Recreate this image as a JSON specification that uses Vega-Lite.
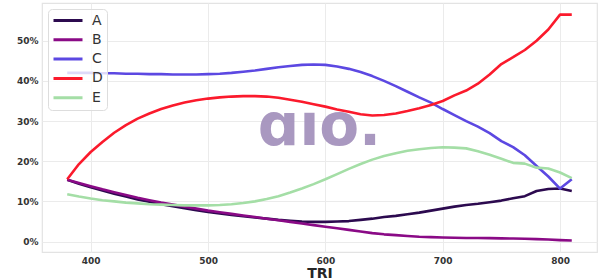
{
  "$schema": "https://vega.github.io/schema/vega-lite/v6.json",
  "width": 555,
  "height": 249,
  "autosize": {"type": "none"},
  "padding": {"left": 42, "top": 3, "right": 3, "bottom": 28},
  "background": "white",
  "config": {
    "view": {"stroke": "#e3e3e3", "strokeWidth": 1.2},
    "font": "DejaVu Sans"
  },
  "datasets": {
    "series": [
      {"x":380,"A":15.4,"B":15.4,"C":42.0,"D":15.5,"E":11.8},
      {"x":390,"A":14.4,"B":14.6,"C":42.0,"D":19.3,"E":11.2},
      {"x":400,"A":13.5,"B":13.8,"C":42.0,"D":22.3,"E":10.7},
      {"x":410,"A":12.7,"B":13.0,"C":41.9,"D":24.8,"E":10.3},
      {"x":420,"A":11.9,"B":12.3,"C":41.9,"D":27.1,"E":10.0},
      {"x":430,"A":11.2,"B":11.6,"C":41.8,"D":29.0,"E":9.7},
      {"x":440,"A":10.5,"B":10.9,"C":41.8,"D":30.6,"E":9.5},
      {"x":450,"A":9.9,"B":10.3,"C":41.7,"D":31.9,"E":9.3},
      {"x":460,"A":9.3,"B":9.7,"C":41.7,"D":33.0,"E":9.2},
      {"x":470,"A":8.8,"B":9.2,"C":41.6,"D":33.9,"E":9.1},
      {"x":480,"A":8.3,"B":8.7,"C":41.6,"D":34.6,"E":9.0},
      {"x":490,"A":7.8,"B":8.2,"C":41.6,"D":35.2,"E":9.0},
      {"x":500,"A":7.4,"B":7.7,"C":41.7,"D":35.6,"E":9.0},
      {"x":510,"A":7.0,"B":7.3,"C":41.8,"D":35.9,"E":9.1},
      {"x":520,"A":6.6,"B":6.9,"C":42.0,"D":36.1,"E":9.3},
      {"x":530,"A":6.3,"B":6.5,"C":42.3,"D":36.2,"E":9.6},
      {"x":540,"A":6.0,"B":6.1,"C":42.6,"D":36.2,"E":10.0},
      {"x":550,"A":5.7,"B":5.7,"C":43.0,"D":36.1,"E":10.6},
      {"x":560,"A":5.4,"B":5.3,"C":43.4,"D":35.8,"E":11.3},
      {"x":570,"A":5.2,"B":4.9,"C":43.7,"D":35.3,"E":12.2},
      {"x":580,"A":5.0,"B":4.5,"C":44.0,"D":34.8,"E":13.2},
      {"x":590,"A":4.9,"B":4.1,"C":44.1,"D":34.2,"E":14.3},
      {"x":600,"A":4.9,"B":3.7,"C":44.0,"D":33.6,"E":15.5},
      {"x":610,"A":5.0,"B":3.3,"C":43.6,"D":32.9,"E":16.8},
      {"x":620,"A":5.1,"B":2.9,"C":43.0,"D":32.3,"E":18.1},
      {"x":630,"A":5.4,"B":2.5,"C":42.2,"D":31.7,"E":19.3},
      {"x":640,"A":5.7,"B":2.1,"C":41.2,"D":31.4,"E":20.4},
      {"x":650,"A":6.1,"B":1.8,"C":40.0,"D":31.5,"E":21.3},
      {"x":660,"A":6.4,"B":1.6,"C":38.7,"D":31.9,"E":22.0},
      {"x":670,"A":6.8,"B":1.4,"C":37.3,"D":32.5,"E":22.6},
      {"x":680,"A":7.2,"B":1.2,"C":35.9,"D":33.2,"E":23.0},
      {"x":690,"A":7.7,"B":1.1,"C":34.6,"D":34.0,"E":23.3},
      {"x":700,"A":8.2,"B":1.0,"C":33.0,"D":35.0,"E":23.5},
      {"x":710,"A":8.7,"B":0.95,"C":31.5,"D":36.4,"E":23.4},
      {"x":720,"A":9.1,"B":0.9,"C":30.0,"D":37.6,"E":23.2},
      {"x":730,"A":9.4,"B":0.9,"C":28.6,"D":39.3,"E":22.5},
      {"x":740,"A":9.8,"B":0.85,"C":27.0,"D":41.6,"E":21.6},
      {"x":750,"A":10.2,"B":0.8,"C":25.0,"D":44.2,"E":20.6},
      {"x":760,"A":10.8,"B":0.75,"C":23.5,"D":45.9,"E":19.6},
      {"x":770,"A":11.3,"B":0.7,"C":21.5,"D":47.7,"E":19.4},
      {"x":780,"A":12.6,"B":0.6,"C":18.8,"D":50.0,"E":18.4},
      {"x":790,"A":13.1,"B":0.5,"C":16.2,"D":52.8,"E":18.2},
      {"x":800,"A":13.2,"B":0.35,"C":13.2,"D":56.5,"E":17.2},
      {"x":810,"A":12.6,"B":0.25,"C":15.5,"D":56.5,"E":15.8}
    ],
    "mark": [{"label": "ɑıo.", "x": 595, "y": 24}]
  },
  "layer": [
    {
      "data": {"name": "series"},
      "transform": [{"fold": ["A", "B", "C", "D", "E"], "as": ["series", "value"]}],
      "mark": {"type": "line", "strokeWidth": 2.6, "strokeCap": "butt", "strokeJoin": "round", "interpolate": "linear"},
      "encoding": {
        "x": {
          "field": "x", "type": "quantitative",
          "scale": {"domain": [358.5, 831.5], "nice": false, "zero": false},
          "axis": {
            "title": "TRI", "values": [400, 500, 600, 700, 800],
            "grid": true, "gridColor": "#ebebeb", "gridWidth": 1,
            "domain": false, "ticks": false,
            "labelFont": "DejaVu Sans", "labelFontWeight": "bold", "labelFontSize": 9, "labelColor": "#333333", "labelPadding": 4,
            "titleFont": "DejaVu Sans", "titleFontWeight": "bold", "titleFontSize": 14, "titleColor": "#262626", "titlePadding": 1
          }
        },
        "y": {
          "field": "value", "type": "quantitative",
          "scale": {"domain": [-2.6, 59.4], "nice": false, "zero": false},
          "axis": {
            "title": null, "values": [0, 10, 20, 30, 40, 50],
            "labelExpr": "datum.value + '%'",
            "grid": true, "gridColor": "#ebebeb", "gridWidth": 1,
            "domain": false, "ticks": false,
            "labelFont": "DejaVu Sans", "labelFontWeight": "bold", "labelFontSize": 9, "labelColor": "#333333", "labelPadding": 4
          }
        },
        "color": {
          "field": "series", "type": "nominal",
          "scale": {"domain": ["A", "B", "C", "D", "E"], "range": ["#2c0a4f", "#8a0a86", "#5c48e2", "#fb1a2c", "#a4dea6"]},
          "legend": {
            "title": null, "orient": "none", "legendX": 6, "legendY": 6,
            "symbolType": "stroke", "symbolStrokeWidth": 3, "symbolSize": 841,
            "labelFont": "DejaVu Sans", "labelFontSize": 14, "labelColor": "#333333", "labelOffset": 8,
            "clipHeight": 15, "rowPadding": 4.3,
            "padding": 4,
            "fillColor": "rgba(255,255,255,0.8)", "strokeColor": "#dddddd", "cornerRadius": 4
          }
        }
      }
    },
    {
      "data": {"name": "mark"},
      "mark": {"type": "text", "font": "DejaVu Sans", "fontWeight": "bold", "fontSize": 58, "color": "#a593bd", "opacity": 0.95, "align": "center", "baseline": "alphabetic"},
      "encoding": {
        "x": {"field": "x", "type": "quantitative"},
        "y": {"field": "y", "type": "quantitative"},
        "text": {"field": "label"}
      }
    }
  ]
}
